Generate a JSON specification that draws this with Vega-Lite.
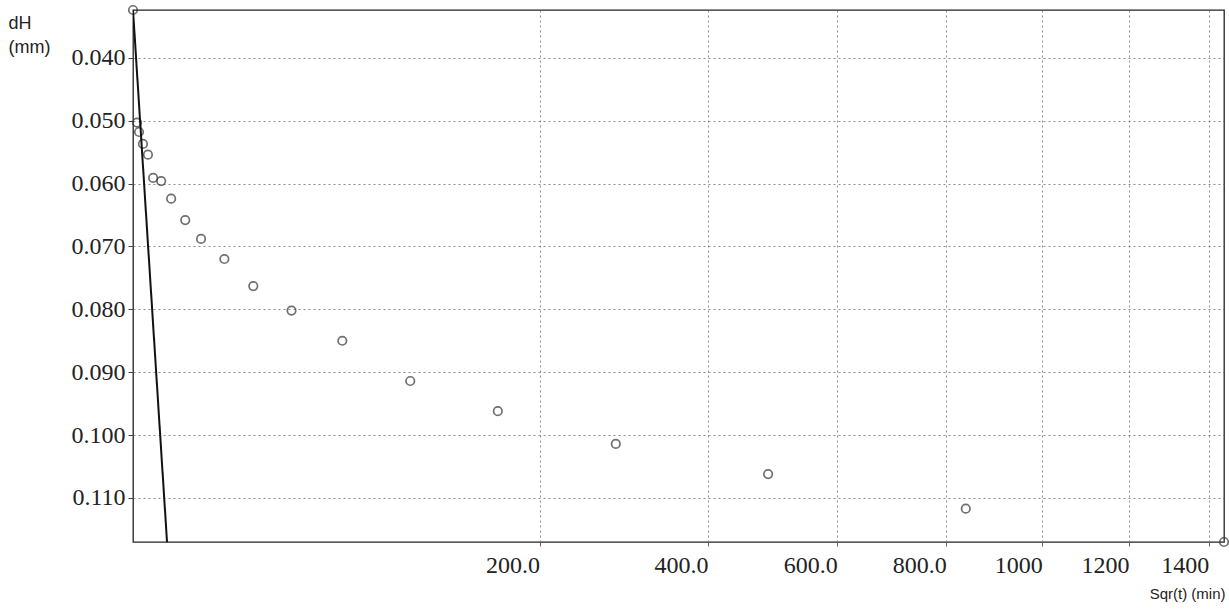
{
  "$schema": "https://vega.github.io/schema/vega-lite/v6.json",
  "autosize": {"type": "none"},
  "padding": {"left": 133, "top": 10, "right": 5, "bottom": 69},
  "width": 1091,
  "height": 532,
  "background": "white",
  "config": {
    "view": {"stroke": "#222", "strokeWidth": 1.3},
    "axis": {"gridColor": "#666", "gridDash": [2, 3], "gridWidth": 1, "gridOpacity": 0.75, "domain": false}
  },
  "datasets": {
    "pts": [
      {"t": 0, "dH": 0.0324},
      {"t": 0.02, "dH": 0.0503},
      {"t": 0.044, "dH": 0.0518},
      {"t": 0.12, "dH": 0.0537},
      {"t": 0.27, "dH": 0.0554},
      {"t": 0.49, "dH": 0.0591},
      {"t": 0.96, "dH": 0.0596},
      {"t": 1.76, "dH": 0.0624},
      {"t": 3.3, "dH": 0.0658},
      {"t": 5.6, "dH": 0.0688},
      {"t": 10.1, "dH": 0.072},
      {"t": 17.5, "dH": 0.0763},
      {"t": 30.4, "dH": 0.0802},
      {"t": 53, "dH": 0.085},
      {"t": 93, "dH": 0.0914},
      {"t": 161, "dH": 0.0962},
      {"t": 282, "dH": 0.1014},
      {"t": 488, "dH": 0.1062},
      {"t": 839, "dH": 0.1117},
      {"t": 1440, "dH": 0.117}
    ],
    "fit": [
      {"t": 0, "dH": 0.0324},
      {"t": 1.4, "dH": 0.117}
    ]
  },
  "layer": [
    {
      "data": {"name": "pts"},
      "mark": {"type": "point", "filled": false, "stroke": "#333", "strokeWidth": 1.7, "size": 72, "clip": false},
      "encoding": {
        "x": {
          "field": "t", "type": "quantitative",
          "scale": {"type": "sqrt", "domain": [0, 1440], "nice": false, "zero": true},
          "axis": {
            "values": [200, 400, 600, 800, 1000, 1200, 1400],
            "labelExpr": "datum.value < 1000 ? format(datum.value, '.1f') : format(datum.value, 'd')",
            "labelFont": "Liberation Serif", "labelFontSize": 24, "labelColor": "#222",
            "labelAlign": "right", "labelDx": 5, "labelPadding": 7, "labelBaseline": "top",
            "tickSize": 4, "tickColor": "#666",
            "grid": true,
            "title": "Sqr(t) (min)", "titleFont": "Liberation Sans", "titleFontSize": 15, "titleFontWeight": "normal",
            "titleColor": "#222", "titleAnchor": null, "titleAlign": "right", "titleBaseline": "alphabetic",
            "titleX": 1092, "titleY": 56
          }
        },
        "y": {
          "field": "dH", "type": "quantitative",
          "scale": {"domain": [0.0324, 0.117], "reverse": true, "nice": false, "zero": false},
          "axis": {
            "values": [0.04, 0.05, 0.06, 0.07, 0.08, 0.09, 0.1, 0.11],
            "format": ".3f",
            "labelFont": "Liberation Serif", "labelFontSize": 24, "labelColor": "#222",
            "labelPadding": 3, "tickSize": 5, "tickColor": "#444",
            "grid": true,
            "title": ["dH", "(mm)"], "titleFont": "Liberation Sans", "titleFontSize": 18, "titleFontWeight": "normal",
            "titleColor": "#222", "titleAngle": 0, "titleAnchor": null, "titleAlign": "left", "titleBaseline": "alphabetic",
            "titleLineHeight": 24, "titleX": -125, "titleY": 18
          }
        }
      }
    },
    {
      "data": {"name": "fit"},
      "mark": {"type": "line", "color": "#111", "strokeWidth": 2, "clip": true},
      "encoding": {
        "x": {"field": "t", "type": "quantitative"},
        "y": {"field": "dH", "type": "quantitative"}
      }
    }
  ]
}
